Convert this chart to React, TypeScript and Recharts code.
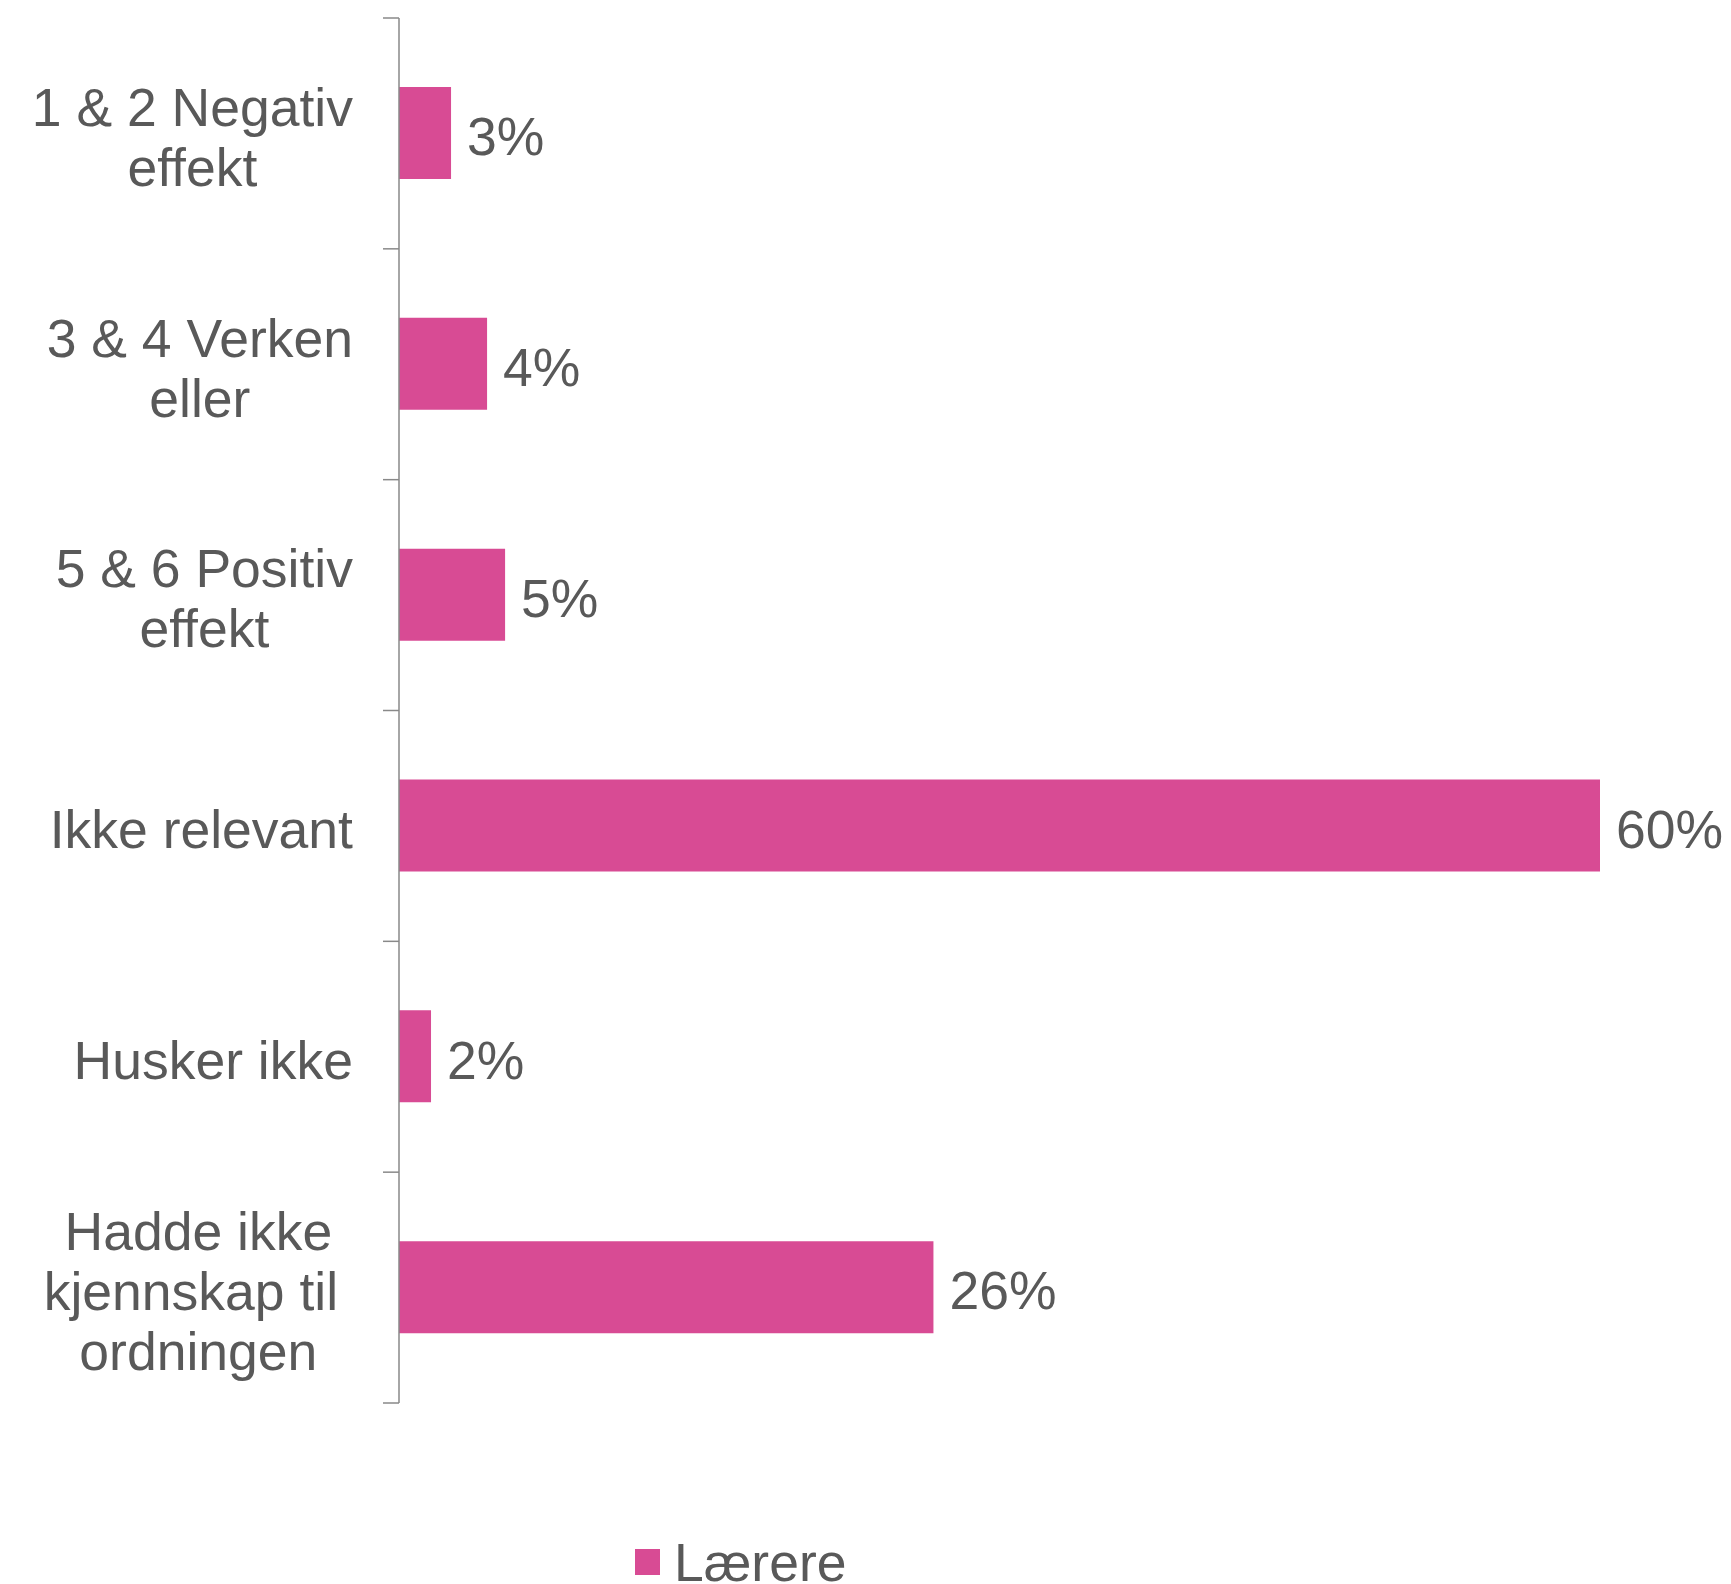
import React from 'react'
import { BarChart, Bar, XAxis, YAxis, LabelList, Legend } from 'recharts'

const categories = [
  ['1 & 2 Negativ', 'effekt'],
  ['3 & 4 Verken', 'eller'],
  ['5 & 6 Positiv', 'effekt'],
  ['Ikke relevant'],
  ['Husker ikke'],
  ['Hadde ikke', 'kjennskap til ', 'ordningen'],
]
const values = [2.6, 4.4, 5.3, 60, 1.6, 26.7]
const valueLabels = ['3%', '4%', '5%', '60%', '2%', '26%']
const seriesName = 'Lærere'

const FONT = '"Liberation Sans", Arial, sans-serif'
const TEXT = '#595959'
const BAR = '#D84B94'
const AXIS = '#898989'
const FS = 53.5
const LH = 60
const CAP = FS * 0.36 + 3

const data = categories.map((lines, i) => ({
  name: lines.join('\n'),
  value: values[i],
  label: valueLabels[i],
}))

let ctx: CanvasRenderingContext2D | null = null
function measure(s: string) {
  if (!ctx) ctx = document.createElement('canvas').getContext('2d')
  if (!ctx) return s.length * FS * 0.5
  ctx.font = `${FS}px ${FONT}`
  return ctx.measureText(s).width
}

function CategoryTick(props: any) {
  const { x, y, payload, index, visibleTicksCount, height } = props
  const lines: string[] = String(payload.value).split('\n')
  const half = payload.offset ?? (height / (visibleTicksCount || 6)) / 2
  const widest = Math.max(...lines.map(measure))
  const cx = x - widest / 2
  const first = y - ((lines.length - 1) * LH) / 2 + CAP
  return (
    <g>
      <line x1={x + 30} x2={x + 46} y1={y - half} y2={y - half} stroke={AXIS} strokeWidth={1.5} />
      {index === visibleTicksCount - 1 && (
        <line x1={x + 30} x2={x + 46} y1={y + half} y2={y + half} stroke={AXIS} strokeWidth={1.5} />
      )}
      <text textAnchor="middle" fill={TEXT} fontSize={FS} fontFamily={FONT}>
        {lines.map((l, i) => (
          <tspan key={i} x={cx} y={first + i * LH}>{l}</tspan>
        ))}
      </text>
    </g>
  )
}

function ValueLabel(props: any) {
  const { x, y, width, height, value } = props
  return (
    <text x={x + width + 16} y={y + height / 2 + CAP} fill={TEXT} fontSize={FS} fontFamily={FONT}>
      {value}
    </text>
  )
}

function LegendContent() {
  return (
    <svg width={240} height={40} style={{ display: 'block' }}>
      <rect x={0} y={6} width={25} height={26} fill={BAR} />
      <text x={39} y={38} fill={TEXT} fontSize={FS} fontFamily={FONT}>{seriesName}</text>
    </svg>
  )
}

export default function App() {
  return (
    <div style={{ position: 'absolute', left: 0, top: 0, width: 1731, height: 1584, background: '#fff', overflow: 'hidden' }}>
      <BarChart
        layout="vertical"
        width={1731}
        height={1584}
        data={data}
        margin={{ top: 18, right: 131, bottom: 181, left: 0 }}
      >
        <XAxis type="number" domain={[0, 60]} hide />
        <YAxis
          type="category"
          dataKey="name"
          width={399}
          axisLine={{ stroke: AXIS, strokeWidth: 1.5 }}
          tickLine={false}
          tickSize={16}
          tickMargin={30}
          interval={0}
          tick={<CategoryTick />}
        />
        <Legend
          verticalAlign="middle"
          align="center"
          content={<LegendContent />}
          wrapperStyle={{ left: 635, top: 1543, width: 240 }}
        />
        <Bar dataKey="value" name={seriesName} fill={BAR} barSize={92} isAnimationActive={false}>
          <LabelList dataKey="label" content={<ValueLabel />} />
        </Bar>
      </BarChart>
    </div>
  )
}
